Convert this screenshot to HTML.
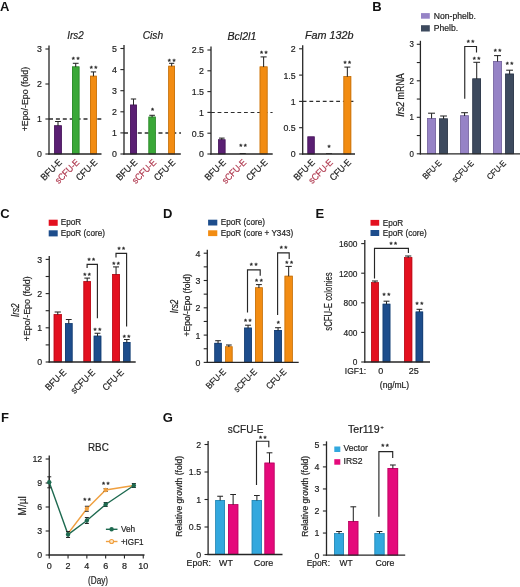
<!DOCTYPE html>
<html><head><meta charset="utf-8"><style>
html,body{margin:0;padding:0;background:#fff;width:520px;height:587px;overflow:hidden}
svg{display:block;will-change:transform}
text{font-family:"Liberation Sans", sans-serif}
</style></head><body>
<svg width="520" height="587" viewBox="0 0 520 587">
<rect width="520" height="587" fill="#fff"/>
<text x="0.10" y="10.90" font-size="13" text-anchor="start" fill="#111" font-weight="bold">A</text>
<text x="372.20" y="10.90" font-size="13" text-anchor="start" fill="#111" font-weight="bold">B</text>
<text x="0.30" y="217.50" font-size="13" text-anchor="start" fill="#111" font-weight="bold">C</text>
<text x="162.90" y="217.70" font-size="13" text-anchor="start" fill="#111" font-weight="bold">D</text>
<text x="315.60" y="217.80" font-size="13" text-anchor="start" fill="#111" font-weight="bold">E</text>
<text x="1.00" y="421.80" font-size="13" text-anchor="start" fill="#111" font-weight="bold">F</text>
<text x="162.80" y="421.50" font-size="13" text-anchor="start" fill="#111" font-weight="bold">G</text>
<text x="75.50" y="39.20" font-size="11" text-anchor="middle" fill="#222" stroke="#222" stroke-width="0.2" font-style="italic" textLength="16.5" lengthAdjust="spacingAndGlyphs">Irs2</text>
<line x1="49.00" y1="119.00" x2="101.50" y2="119.00" stroke="#2e2e2e" stroke-width="1.35" stroke-dasharray="4 2.9"/>
<rect x="54.20" y="125.40" width="7.60" height="28.60" fill="#5a1f73"/>
<rect x="54.55" y="125.75" width="6.90" height="28.25" fill="none" stroke="#461859" stroke-width="0.7"/>
<line x1="58.00" y1="125.90" x2="58.00" y2="121.50" stroke="#262626" stroke-width="1.05"/>
<line x1="55.04" y1="121.50" x2="60.96" y2="121.50" stroke="#262626" stroke-width="1.05"/>
<rect x="72.00" y="66.50" width="7.40" height="87.50" fill="#3aa838"/>
<rect x="72.35" y="66.85" width="6.70" height="87.15" fill="none" stroke="#2d832b" stroke-width="0.7"/>
<line x1="75.70" y1="67.00" x2="75.70" y2="63.30" stroke="#262626" stroke-width="1.05"/>
<line x1="72.81" y1="63.30" x2="78.59" y2="63.30" stroke="#262626" stroke-width="1.05"/>
<rect x="90.00" y="75.80" width="6.90" height="78.20" fill="#f28c12"/>
<rect x="90.35" y="76.15" width="6.20" height="77.85" fill="none" stroke="#bc6d0e" stroke-width="0.7"/>
<line x1="93.45" y1="76.30" x2="93.45" y2="71.90" stroke="#262626" stroke-width="1.05"/>
<line x1="90.76" y1="71.90" x2="96.14" y2="71.90" stroke="#262626" stroke-width="1.05"/>
<text x="76.45" y="61.60" font-size="8" text-anchor="middle" fill="#222" stroke="#222" stroke-width="0.3" letter-spacing="1.5">**</text>
<text x="94.25" y="70.80" font-size="8" text-anchor="middle" fill="#222" stroke="#222" stroke-width="0.3" letter-spacing="1.5">**</text>
<line x1="49.00" y1="45.50" x2="49.00" y2="154.60" stroke="#262626" stroke-width="1.3"/>
<line x1="45.40" y1="154.00" x2="49.00" y2="154.00" stroke="#262626" stroke-width="1.1"/>
<text x="42.00" y="157.40" font-size="9.5" text-anchor="end" fill="#222" stroke="#222" stroke-width="0.2" textLength="4.91" lengthAdjust="spacingAndGlyphs">0</text>
<line x1="45.40" y1="119.00" x2="49.00" y2="119.00" stroke="#262626" stroke-width="1.1"/>
<text x="42.00" y="122.40" font-size="9.5" text-anchor="end" fill="#222" stroke="#222" stroke-width="0.2" textLength="4.91" lengthAdjust="spacingAndGlyphs">1</text>
<line x1="45.40" y1="84.00" x2="49.00" y2="84.00" stroke="#262626" stroke-width="1.1"/>
<text x="42.00" y="87.40" font-size="9.5" text-anchor="end" fill="#222" stroke="#222" stroke-width="0.2" textLength="4.91" lengthAdjust="spacingAndGlyphs">2</text>
<line x1="45.40" y1="49.00" x2="49.00" y2="49.00" stroke="#262626" stroke-width="1.1"/>
<text x="42.00" y="52.40" font-size="9.5" text-anchor="end" fill="#222" stroke="#222" stroke-width="0.2" textLength="4.91" lengthAdjust="spacingAndGlyphs">3</text>
<line x1="48.35" y1="154.00" x2="101.50" y2="154.00" stroke="#262626" stroke-width="1.3"/>
<text x="62.50" y="163.00" font-size="9.5" text-anchor="end" fill="#222" stroke="#222" stroke-width="0.2" transform="rotate(-45 62.50 163.00)" textLength="25.37" lengthAdjust="spacingAndGlyphs">BFU-E</text>
<text x="80.00" y="163.00" font-size="9.5" text-anchor="end" fill="#b03a50" stroke="#b03a50" stroke-width="0.2" transform="rotate(-45 80.00 163.00)" textLength="30.06" lengthAdjust="spacingAndGlyphs">sCFU-E</text>
<text x="98.00" y="163.00" font-size="9.5" text-anchor="end" fill="#222" stroke="#222" stroke-width="0.2" transform="rotate(-45 98.00 163.00)" textLength="25.83" lengthAdjust="spacingAndGlyphs">CFU-E</text>
<text x="28.30" y="99.10" font-size="9" text-anchor="middle" fill="#222" stroke="#222" stroke-width="0.2" transform="rotate(-90 28.30 99.10)" textLength="64.5" lengthAdjust="spacingAndGlyphs">+Epo/-Epo (fold)</text>
<text x="152.90" y="39.20" font-size="11" text-anchor="middle" fill="#222" stroke="#222" stroke-width="0.2" font-style="italic" textLength="20.4" lengthAdjust="spacingAndGlyphs">Cish</text>
<line x1="124.00" y1="133.00" x2="181.00" y2="133.00" stroke="#2e2e2e" stroke-width="1.35" stroke-dasharray="4 2.9"/>
<rect x="130.10" y="104.70" width="6.80" height="49.30" fill="#5a1f73"/>
<rect x="130.45" y="105.05" width="6.10" height="48.95" fill="none" stroke="#461859" stroke-width="0.7"/>
<line x1="133.50" y1="105.20" x2="133.50" y2="99.00" stroke="#262626" stroke-width="1.05"/>
<line x1="130.85" y1="99.00" x2="136.15" y2="99.00" stroke="#262626" stroke-width="1.05"/>
<rect x="148.50" y="116.70" width="7.20" height="37.30" fill="#3aa838"/>
<rect x="148.85" y="117.05" width="6.50" height="36.95" fill="none" stroke="#2d832b" stroke-width="0.7"/>
<line x1="152.10" y1="117.20" x2="152.10" y2="115.30" stroke="#262626" stroke-width="1.05"/>
<line x1="149.29" y1="115.30" x2="154.91" y2="115.30" stroke="#262626" stroke-width="1.05"/>
<rect x="168.30" y="65.80" width="6.70" height="88.20" fill="#f28c12"/>
<rect x="168.65" y="66.15" width="6.00" height="87.85" fill="none" stroke="#bc6d0e" stroke-width="0.7"/>
<line x1="171.65" y1="66.30" x2="171.65" y2="63.30" stroke="#262626" stroke-width="1.05"/>
<line x1="169.04" y1="63.30" x2="174.26" y2="63.30" stroke="#262626" stroke-width="1.05"/>
<text x="152.60" y="113.30" font-size="8" text-anchor="middle" fill="#222" stroke="#222" stroke-width="0.3" letter-spacing="0">*</text>
<text x="172.45" y="63.50" font-size="8" text-anchor="middle" fill="#222" stroke="#222" stroke-width="0.3" letter-spacing="1.5">**</text>
<line x1="124.00" y1="45.00" x2="124.00" y2="154.60" stroke="#262626" stroke-width="1.3"/>
<line x1="120.40" y1="154.00" x2="124.00" y2="154.00" stroke="#262626" stroke-width="1.1"/>
<text x="117.00" y="157.40" font-size="9.5" text-anchor="end" fill="#222" stroke="#222" stroke-width="0.2" textLength="4.91" lengthAdjust="spacingAndGlyphs">0</text>
<line x1="120.40" y1="132.90" x2="124.00" y2="132.90" stroke="#262626" stroke-width="1.1"/>
<text x="117.00" y="136.30" font-size="9.5" text-anchor="end" fill="#222" stroke="#222" stroke-width="0.2" textLength="4.91" lengthAdjust="spacingAndGlyphs">1</text>
<line x1="120.40" y1="111.80" x2="124.00" y2="111.80" stroke="#262626" stroke-width="1.1"/>
<text x="117.00" y="115.20" font-size="9.5" text-anchor="end" fill="#222" stroke="#222" stroke-width="0.2" textLength="4.91" lengthAdjust="spacingAndGlyphs">2</text>
<line x1="120.40" y1="90.70" x2="124.00" y2="90.70" stroke="#262626" stroke-width="1.1"/>
<text x="117.00" y="94.10" font-size="9.5" text-anchor="end" fill="#222" stroke="#222" stroke-width="0.2" textLength="4.91" lengthAdjust="spacingAndGlyphs">3</text>
<line x1="120.40" y1="69.60" x2="124.00" y2="69.60" stroke="#262626" stroke-width="1.1"/>
<text x="117.00" y="73.00" font-size="9.5" text-anchor="end" fill="#222" stroke="#222" stroke-width="0.2" textLength="4.91" lengthAdjust="spacingAndGlyphs">4</text>
<line x1="120.40" y1="48.50" x2="124.00" y2="48.50" stroke="#262626" stroke-width="1.1"/>
<text x="117.00" y="51.90" font-size="9.5" text-anchor="end" fill="#222" stroke="#222" stroke-width="0.2" textLength="4.91" lengthAdjust="spacingAndGlyphs">5</text>
<line x1="123.35" y1="154.00" x2="180.80" y2="154.00" stroke="#262626" stroke-width="1.3"/>
<text x="138.00" y="163.00" font-size="9.5" text-anchor="end" fill="#222" stroke="#222" stroke-width="0.2" transform="rotate(-45 138.00 163.00)" textLength="25.37" lengthAdjust="spacingAndGlyphs">BFU-E</text>
<text x="157.00" y="163.00" font-size="9.5" text-anchor="end" fill="#b03a50" stroke="#b03a50" stroke-width="0.2" transform="rotate(-45 157.00 163.00)" textLength="30.06" lengthAdjust="spacingAndGlyphs">sCFU-E</text>
<text x="176.00" y="163.00" font-size="9.5" text-anchor="end" fill="#222" stroke="#222" stroke-width="0.2" transform="rotate(-45 176.00 163.00)" textLength="25.83" lengthAdjust="spacingAndGlyphs">CFU-E</text>
<text x="241.90" y="40.20" font-size="11" text-anchor="middle" fill="#222" stroke="#222" stroke-width="0.2" font-style="italic" textLength="28.8" lengthAdjust="spacingAndGlyphs">Bcl2l1</text>
<line x1="211.00" y1="112.50" x2="272.60" y2="112.50" stroke="#2e2e2e" stroke-width="1.0" stroke-dasharray="3.8 2.8"/>
<rect x="218.20" y="139.40" width="7.20" height="14.60" fill="#5a1f73"/>
<rect x="218.55" y="139.75" width="6.50" height="14.25" fill="none" stroke="#461859" stroke-width="0.7"/>
<line x1="221.80" y1="139.90" x2="221.80" y2="138.10" stroke="#262626" stroke-width="1.05"/>
<line x1="218.99" y1="138.10" x2="224.61" y2="138.10" stroke="#262626" stroke-width="1.05"/>
<rect x="239.70" y="153.00" width="6.10" height="1.00" fill="#333"/>
<rect x="259.70" y="66.50" width="7.80" height="87.50" fill="#f28c12"/>
<rect x="260.05" y="66.85" width="7.10" height="87.15" fill="none" stroke="#bc6d0e" stroke-width="0.7"/>
<line x1="263.60" y1="67.00" x2="263.60" y2="56.90" stroke="#262626" stroke-width="1.05"/>
<line x1="260.56" y1="56.90" x2="266.64" y2="56.90" stroke="#262626" stroke-width="1.05"/>
<text x="243.75" y="149.30" font-size="8" text-anchor="middle" fill="#222" stroke="#222" stroke-width="0.3" letter-spacing="1.5">**</text>
<text x="264.55" y="55.80" font-size="8" text-anchor="middle" fill="#222" stroke="#222" stroke-width="0.3" letter-spacing="1.5">**</text>
<line x1="211.00" y1="46.50" x2="211.00" y2="154.60" stroke="#262626" stroke-width="1.3"/>
<line x1="207.40" y1="154.00" x2="211.00" y2="154.00" stroke="#262626" stroke-width="1.1"/>
<text x="204.00" y="157.40" font-size="9.5" text-anchor="end" fill="#222" stroke="#222" stroke-width="0.2" textLength="4.91" lengthAdjust="spacingAndGlyphs">0</text>
<line x1="207.40" y1="133.20" x2="211.00" y2="133.20" stroke="#262626" stroke-width="1.1"/>
<text x="204.00" y="136.60" font-size="9.5" text-anchor="end" fill="#222" stroke="#222" stroke-width="0.2" textLength="12.28" lengthAdjust="spacingAndGlyphs">0.5</text>
<line x1="207.40" y1="112.40" x2="211.00" y2="112.40" stroke="#262626" stroke-width="1.1"/>
<text x="204.00" y="115.80" font-size="9.5" text-anchor="end" fill="#222" stroke="#222" stroke-width="0.2" textLength="4.91" lengthAdjust="spacingAndGlyphs">1</text>
<line x1="207.40" y1="91.60" x2="211.00" y2="91.60" stroke="#262626" stroke-width="1.1"/>
<text x="204.00" y="95.00" font-size="9.5" text-anchor="end" fill="#222" stroke="#222" stroke-width="0.2" textLength="12.28" lengthAdjust="spacingAndGlyphs">1.5</text>
<line x1="207.40" y1="70.80" x2="211.00" y2="70.80" stroke="#262626" stroke-width="1.1"/>
<text x="204.00" y="74.20" font-size="9.5" text-anchor="end" fill="#222" stroke="#222" stroke-width="0.2" textLength="4.91" lengthAdjust="spacingAndGlyphs">2</text>
<line x1="207.40" y1="50.00" x2="211.00" y2="50.00" stroke="#262626" stroke-width="1.1"/>
<text x="204.00" y="53.40" font-size="9.5" text-anchor="end" fill="#222" stroke="#222" stroke-width="0.2" textLength="12.28" lengthAdjust="spacingAndGlyphs">2.5</text>
<line x1="210.35" y1="154.00" x2="272.70" y2="154.00" stroke="#262626" stroke-width="1.3"/>
<text x="226.50" y="163.00" font-size="9.5" text-anchor="end" fill="#222" stroke="#222" stroke-width="0.2" transform="rotate(-45 226.50 163.00)" textLength="25.37" lengthAdjust="spacingAndGlyphs">BFU-E</text>
<text x="247.00" y="163.00" font-size="9.5" text-anchor="end" fill="#b03a50" stroke="#b03a50" stroke-width="0.2" transform="rotate(-45 247.00 163.00)" textLength="30.06" lengthAdjust="spacingAndGlyphs">sCFU-E</text>
<text x="268.30" y="163.00" font-size="9.5" text-anchor="end" fill="#222" stroke="#222" stroke-width="0.2" transform="rotate(-45 268.30 163.00)" textLength="25.83" lengthAdjust="spacingAndGlyphs">CFU-E</text>
<text x="329.20" y="38.70" font-size="11" text-anchor="middle" fill="#222" stroke="#222" stroke-width="0.2" font-style="italic" textLength="48.5" lengthAdjust="spacingAndGlyphs">Fam 132b</text>
<line x1="302.70" y1="101.40" x2="354.20" y2="101.40" stroke="#2e2e2e" stroke-width="1.2" stroke-dasharray="3.8 2.9"/>
<rect x="307.50" y="136.50" width="7.10" height="17.50" fill="#5a1f73"/>
<rect x="307.85" y="136.85" width="6.40" height="17.15" fill="none" stroke="#461859" stroke-width="0.7"/>
<rect x="326.00" y="153.20" width="6.00" height="0.80" fill="#333"/>
<rect x="343.50" y="76.20" width="7.70" height="77.80" fill="#f28c12"/>
<rect x="343.85" y="76.55" width="7.00" height="77.45" fill="none" stroke="#bc6d0e" stroke-width="0.7"/>
<line x1="347.35" y1="76.70" x2="347.35" y2="67.10" stroke="#262626" stroke-width="1.05"/>
<line x1="344.35" y1="67.10" x2="350.35" y2="67.10" stroke="#262626" stroke-width="1.05"/>
<text x="329.00" y="149.70" font-size="8" text-anchor="middle" fill="#222" stroke="#222" stroke-width="0.3" letter-spacing="0">*</text>
<text x="348.05" y="66.00" font-size="8" text-anchor="middle" fill="#222" stroke="#222" stroke-width="0.3" letter-spacing="1.5">**</text>
<line x1="302.70" y1="45.30" x2="302.70" y2="154.60" stroke="#262626" stroke-width="1.3"/>
<line x1="299.10" y1="154.00" x2="302.70" y2="154.00" stroke="#262626" stroke-width="1.1"/>
<text x="295.70" y="157.40" font-size="9.5" text-anchor="end" fill="#222" stroke="#222" stroke-width="0.2" textLength="4.91" lengthAdjust="spacingAndGlyphs">0</text>
<line x1="299.10" y1="127.70" x2="302.70" y2="127.70" stroke="#262626" stroke-width="1.1"/>
<text x="295.70" y="131.10" font-size="9.5" text-anchor="end" fill="#222" stroke="#222" stroke-width="0.2" textLength="12.28" lengthAdjust="spacingAndGlyphs">0.5</text>
<line x1="299.10" y1="101.40" x2="302.70" y2="101.40" stroke="#262626" stroke-width="1.1"/>
<text x="295.70" y="104.80" font-size="9.5" text-anchor="end" fill="#222" stroke="#222" stroke-width="0.2" textLength="4.91" lengthAdjust="spacingAndGlyphs">1</text>
<line x1="299.10" y1="75.10" x2="302.70" y2="75.10" stroke="#262626" stroke-width="1.1"/>
<text x="295.70" y="78.50" font-size="9.5" text-anchor="end" fill="#222" stroke="#222" stroke-width="0.2" textLength="12.28" lengthAdjust="spacingAndGlyphs">1.5</text>
<line x1="299.10" y1="48.80" x2="302.70" y2="48.80" stroke="#262626" stroke-width="1.1"/>
<text x="295.70" y="52.20" font-size="9.5" text-anchor="end" fill="#222" stroke="#222" stroke-width="0.2" textLength="4.91" lengthAdjust="spacingAndGlyphs">2</text>
<line x1="302.05" y1="154.00" x2="355.00" y2="154.00" stroke="#262626" stroke-width="1.3"/>
<text x="315.50" y="163.00" font-size="9.5" text-anchor="end" fill="#222" stroke="#222" stroke-width="0.2" transform="rotate(-45 315.50 163.00)" textLength="25.37" lengthAdjust="spacingAndGlyphs">BFU-E</text>
<text x="333.50" y="163.00" font-size="9.5" text-anchor="end" fill="#b03a50" stroke="#b03a50" stroke-width="0.2" transform="rotate(-45 333.50 163.00)" textLength="30.06" lengthAdjust="spacingAndGlyphs">sCFU-E</text>
<text x="351.80" y="163.00" font-size="9.5" text-anchor="end" fill="#222" stroke="#222" stroke-width="0.2" transform="rotate(-45 351.80 163.00)" textLength="25.83" lengthAdjust="spacingAndGlyphs">CFU-E</text>
<rect x="421.00" y="13.10" width="8.80" height="5.60" fill="#9683c6"/>
<text x="433.80" y="19.10" font-size="9" text-anchor="start" fill="#222" stroke="#222" stroke-width="0.2" textLength="42.05" lengthAdjust="spacingAndGlyphs">Non-phelb.</text>
<rect x="421.00" y="25.20" width="8.80" height="6.30" fill="#3d4a5e"/>
<text x="433.80" y="31.20" font-size="9" text-anchor="start" fill="#222" stroke="#222" stroke-width="0.2" textLength="24.37" lengthAdjust="spacingAndGlyphs">Phelb.</text>
<rect x="427.10" y="118.00" width="8.90" height="35.80" fill="#9683c6"/>
<rect x="427.45" y="118.35" width="8.20" height="35.45" fill="none" stroke="#75669a" stroke-width="0.7"/>
<line x1="431.55" y1="118.50" x2="431.55" y2="113.20" stroke="#262626" stroke-width="1.05"/>
<line x1="428.08" y1="113.20" x2="435.02" y2="113.20" stroke="#262626" stroke-width="1.05"/>
<rect x="439.20" y="118.50" width="8.70" height="35.30" fill="#3d4a5e"/>
<rect x="439.55" y="118.85" width="8.00" height="34.95" fill="none" stroke="#2f3949" stroke-width="0.7"/>
<line x1="443.55" y1="119.00" x2="443.55" y2="116.00" stroke="#262626" stroke-width="1.05"/>
<line x1="440.16" y1="116.00" x2="446.94" y2="116.00" stroke="#262626" stroke-width="1.05"/>
<rect x="460.20" y="115.40" width="8.70" height="38.40" fill="#9683c6"/>
<rect x="460.55" y="115.75" width="8.00" height="38.05" fill="none" stroke="#75669a" stroke-width="0.7"/>
<line x1="464.55" y1="115.90" x2="464.55" y2="112.70" stroke="#262626" stroke-width="1.05"/>
<line x1="461.16" y1="112.70" x2="467.94" y2="112.70" stroke="#262626" stroke-width="1.05"/>
<rect x="472.40" y="78.50" width="8.60" height="75.30" fill="#3d4a5e"/>
<rect x="472.75" y="78.85" width="7.90" height="74.95" fill="none" stroke="#2f3949" stroke-width="0.7"/>
<line x1="476.70" y1="79.00" x2="476.70" y2="62.30" stroke="#262626" stroke-width="1.05"/>
<line x1="473.35" y1="62.30" x2="480.05" y2="62.30" stroke="#262626" stroke-width="1.05"/>
<rect x="493.10" y="61.00" width="8.90" height="92.80" fill="#9683c6"/>
<rect x="493.45" y="61.35" width="8.20" height="92.45" fill="none" stroke="#75669a" stroke-width="0.7"/>
<line x1="497.55" y1="61.50" x2="497.55" y2="55.60" stroke="#262626" stroke-width="1.05"/>
<line x1="494.08" y1="55.60" x2="501.02" y2="55.60" stroke="#262626" stroke-width="1.05"/>
<rect x="505.20" y="73.70" width="8.80" height="80.10" fill="#3d4a5e"/>
<rect x="505.55" y="74.05" width="8.10" height="79.75" fill="none" stroke="#2f3949" stroke-width="0.7"/>
<line x1="509.60" y1="74.20" x2="509.60" y2="70.20" stroke="#262626" stroke-width="1.05"/>
<line x1="506.17" y1="70.20" x2="513.03" y2="70.20" stroke="#262626" stroke-width="1.05"/>
<polyline points="464.75,98.70 464.75,46.50 476.50,46.50 476.50,52.50" fill="none" stroke="#262626" stroke-width="1.15"/>
<text x="471.35" y="45.10" font-size="8" text-anchor="middle" fill="#222" stroke="#222" stroke-width="0.3" letter-spacing="1.5">**</text>
<text x="477.25" y="62.20" font-size="8" text-anchor="middle" fill="#222" stroke="#222" stroke-width="0.3" letter-spacing="1.5">**</text>
<text x="498.25" y="53.50" font-size="8" text-anchor="middle" fill="#222" stroke="#222" stroke-width="0.3" letter-spacing="1.5">**</text>
<text x="510.35" y="67.20" font-size="8" text-anchor="middle" fill="#222" stroke="#222" stroke-width="0.3" letter-spacing="1.5">**</text>
<line x1="420.40" y1="40.80" x2="420.40" y2="154.40" stroke="#262626" stroke-width="1.3"/>
<line x1="416.80" y1="153.80" x2="420.40" y2="153.80" stroke="#262626" stroke-width="1.1"/>
<text x="413.90" y="156.84" font-size="8.5" text-anchor="end" fill="#222" stroke="#222" stroke-width="0.2" textLength="4.4" lengthAdjust="spacingAndGlyphs">0</text>
<line x1="416.80" y1="117.30" x2="420.40" y2="117.30" stroke="#262626" stroke-width="1.1"/>
<text x="413.90" y="120.34" font-size="8.5" text-anchor="end" fill="#222" stroke="#222" stroke-width="0.2" textLength="4.4" lengthAdjust="spacingAndGlyphs">1</text>
<line x1="416.80" y1="80.80" x2="420.40" y2="80.80" stroke="#262626" stroke-width="1.1"/>
<text x="413.90" y="83.84" font-size="8.5" text-anchor="end" fill="#222" stroke="#222" stroke-width="0.2" textLength="4.4" lengthAdjust="spacingAndGlyphs">2</text>
<line x1="416.80" y1="44.30" x2="420.40" y2="44.30" stroke="#262626" stroke-width="1.1"/>
<text x="413.90" y="47.34" font-size="8.5" text-anchor="end" fill="#222" stroke="#222" stroke-width="0.2" textLength="4.4" lengthAdjust="spacingAndGlyphs">3</text>
<line x1="416.80" y1="135.55" x2="420.40" y2="135.55" stroke="#262626" stroke-width="1.1"/>
<line x1="416.80" y1="99.05" x2="420.40" y2="99.05" stroke="#262626" stroke-width="1.1"/>
<line x1="416.80" y1="62.55" x2="420.40" y2="62.55" stroke="#262626" stroke-width="1.1"/>
<line x1="419.75" y1="153.80" x2="520.00" y2="153.80" stroke="#262626" stroke-width="1.3"/>
<text x="442.00" y="163.80" font-size="8.5" text-anchor="end" fill="#222" stroke="#222" stroke-width="0.2" transform="rotate(-45 442.00 163.80)" textLength="22.7" lengthAdjust="spacingAndGlyphs">BFU-E</text>
<text x="474.30" y="163.80" font-size="8.5" text-anchor="end" fill="#222" stroke="#222" stroke-width="0.2" transform="rotate(-45 474.30 163.80)" textLength="26.9" lengthAdjust="spacingAndGlyphs">sCFU-E</text>
<text x="506.60" y="163.80" font-size="8.5" text-anchor="end" fill="#222" stroke="#222" stroke-width="0.2" transform="rotate(-45 506.60 163.80)" textLength="23.11" lengthAdjust="spacingAndGlyphs">CFU-E</text>
<text x="0" y="0" font-size="10" fill="#222" stroke="#222" stroke-width="0.2" text-anchor="middle" textLength="43.5" lengthAdjust="spacingAndGlyphs" transform="translate(404.2 95) rotate(-90)"><tspan font-style="italic">Irs2</tspan> mRNA</text>
<rect x="48.70" y="219.70" width="9.00" height="6.10" fill="#e3101f"/>
<text x="60.80" y="225.10" font-size="9" text-anchor="start" fill="#222" stroke="#222" stroke-width="0.2" textLength="20.49" lengthAdjust="spacingAndGlyphs">EpoR</text>
<rect x="48.70" y="230.30" width="9.00" height="6.10" fill="#1d4d8c"/>
<text x="60.80" y="236.00" font-size="9" text-anchor="start" fill="#222" stroke="#222" stroke-width="0.2" textLength="44.15" lengthAdjust="spacingAndGlyphs">EpoR (core)</text>
<rect x="53.75" y="314.25" width="8.00" height="47.75" fill="#e3101f"/>
<rect x="54.10" y="314.60" width="7.30" height="47.40" fill="none" stroke="#b10c18" stroke-width="0.7"/>
<line x1="57.75" y1="314.75" x2="57.75" y2="312.00" stroke="#262626" stroke-width="1.05"/>
<line x1="54.63" y1="312.00" x2="60.87" y2="312.00" stroke="#262626" stroke-width="1.05"/>
<rect x="65.00" y="323.25" width="7.50" height="38.75" fill="#1d4d8c"/>
<rect x="65.35" y="323.60" width="6.80" height="38.40" fill="none" stroke="#163c6d" stroke-width="0.7"/>
<line x1="68.75" y1="323.75" x2="68.75" y2="319.50" stroke="#262626" stroke-width="1.05"/>
<line x1="65.83" y1="319.50" x2="71.67" y2="319.50" stroke="#262626" stroke-width="1.05"/>
<rect x="83.50" y="281.25" width="7.40" height="80.75" fill="#e3101f"/>
<rect x="83.85" y="281.60" width="6.70" height="80.40" fill="none" stroke="#b10c18" stroke-width="0.7"/>
<line x1="87.20" y1="281.75" x2="87.20" y2="278.10" stroke="#262626" stroke-width="1.05"/>
<line x1="84.31" y1="278.10" x2="90.09" y2="278.10" stroke="#262626" stroke-width="1.05"/>
<rect x="93.75" y="335.75" width="7.50" height="26.25" fill="#1d4d8c"/>
<rect x="94.10" y="336.10" width="6.80" height="25.90" fill="none" stroke="#163c6d" stroke-width="0.7"/>
<line x1="97.50" y1="336.25" x2="97.50" y2="333.25" stroke="#262626" stroke-width="1.05"/>
<line x1="94.58" y1="333.25" x2="100.42" y2="333.25" stroke="#262626" stroke-width="1.05"/>
<rect x="112.20" y="274.10" width="7.70" height="87.90" fill="#e3101f"/>
<rect x="112.55" y="274.45" width="7.00" height="87.55" fill="none" stroke="#b10c18" stroke-width="0.7"/>
<line x1="116.05" y1="274.60" x2="116.05" y2="266.90" stroke="#262626" stroke-width="1.05"/>
<line x1="113.05" y1="266.90" x2="119.05" y2="266.90" stroke="#262626" stroke-width="1.05"/>
<rect x="123.20" y="342.00" width="7.20" height="20.00" fill="#1d4d8c"/>
<rect x="123.55" y="342.35" width="6.50" height="19.65" fill="none" stroke="#163c6d" stroke-width="0.7"/>
<line x1="126.80" y1="342.50" x2="126.80" y2="339.50" stroke="#262626" stroke-width="1.05"/>
<line x1="123.99" y1="339.50" x2="129.61" y2="339.50" stroke="#262626" stroke-width="1.05"/>
<polyline points="87.10,268.10 87.10,264.40 97.40,264.40 97.40,318.30" fill="none" stroke="#262626" stroke-width="1.15"/>
<polyline points="116.00,257.50 116.00,253.40 126.60,253.40 126.60,326.50" fill="none" stroke="#262626" stroke-width="1.15"/>
<text x="92.00" y="263.10" font-size="8" text-anchor="middle" fill="#222" stroke="#222" stroke-width="0.3" letter-spacing="1.5">**</text>
<text x="87.85" y="277.85" font-size="8" text-anchor="middle" fill="#222" stroke="#222" stroke-width="0.3" letter-spacing="1.5">**</text>
<text x="98.15" y="333.00" font-size="8" text-anchor="middle" fill="#222" stroke="#222" stroke-width="0.3" letter-spacing="1.5">**</text>
<text x="122.00" y="252.20" font-size="8" text-anchor="middle" fill="#222" stroke="#222" stroke-width="0.3" letter-spacing="1.5">**</text>
<text x="116.75" y="267.20" font-size="8" text-anchor="middle" fill="#222" stroke="#222" stroke-width="0.3" letter-spacing="1.5">**</text>
<text x="127.35" y="339.70" font-size="8" text-anchor="middle" fill="#222" stroke="#222" stroke-width="0.3" letter-spacing="1.5">**</text>
<line x1="49.25" y1="255.90" x2="49.25" y2="362.60" stroke="#262626" stroke-width="1.3"/>
<line x1="45.65" y1="362.00" x2="49.25" y2="362.00" stroke="#262626" stroke-width="1.1"/>
<text x="42.25" y="365.40" font-size="9.5" text-anchor="end" fill="#222" stroke="#222" stroke-width="0.2" textLength="4.91" lengthAdjust="spacingAndGlyphs">0</text>
<line x1="45.65" y1="327.80" x2="49.25" y2="327.80" stroke="#262626" stroke-width="1.1"/>
<text x="42.25" y="331.20" font-size="9.5" text-anchor="end" fill="#222" stroke="#222" stroke-width="0.2" textLength="4.91" lengthAdjust="spacingAndGlyphs">1</text>
<line x1="45.65" y1="293.60" x2="49.25" y2="293.60" stroke="#262626" stroke-width="1.1"/>
<text x="42.25" y="297.00" font-size="9.5" text-anchor="end" fill="#222" stroke="#222" stroke-width="0.2" textLength="4.91" lengthAdjust="spacingAndGlyphs">2</text>
<line x1="45.65" y1="259.40" x2="49.25" y2="259.40" stroke="#262626" stroke-width="1.1"/>
<text x="42.25" y="262.80" font-size="9.5" text-anchor="end" fill="#222" stroke="#222" stroke-width="0.2" textLength="4.91" lengthAdjust="spacingAndGlyphs">3</text>
<line x1="45.65" y1="344.90" x2="49.25" y2="344.90" stroke="#262626" stroke-width="1.1"/>
<line x1="45.65" y1="310.70" x2="49.25" y2="310.70" stroke="#262626" stroke-width="1.1"/>
<line x1="45.65" y1="276.50" x2="49.25" y2="276.50" stroke="#262626" stroke-width="1.1"/>
<line x1="48.60" y1="362.00" x2="135.70" y2="362.00" stroke="#262626" stroke-width="1.3"/>
<text x="66.90" y="373.00" font-size="9.5" text-anchor="end" fill="#222" stroke="#222" stroke-width="0.2" transform="rotate(-45 66.90 373.00)" textLength="25.37" lengthAdjust="spacingAndGlyphs">BFU-E</text>
<text x="95.80" y="373.00" font-size="9.5" text-anchor="end" fill="#222" stroke="#222" stroke-width="0.2" transform="rotate(-45 95.80 373.00)" textLength="30.06" lengthAdjust="spacingAndGlyphs">sCFU-E</text>
<text x="124.60" y="373.00" font-size="9.5" text-anchor="end" fill="#222" stroke="#222" stroke-width="0.2" transform="rotate(-45 124.60 373.00)" textLength="25.83" lengthAdjust="spacingAndGlyphs">CFU-E</text>
<text x="19.00" y="310.20" font-size="10" text-anchor="middle" fill="#222" stroke="#222" stroke-width="0.2" font-style="italic" transform="rotate(-90 19.00 310.20)" textLength="13.6" lengthAdjust="spacingAndGlyphs">Irs2</text>
<text x="30.30" y="308.80" font-size="9" text-anchor="middle" fill="#222" stroke="#222" stroke-width="0.2" transform="rotate(-90 30.30 308.80)" textLength="65" lengthAdjust="spacingAndGlyphs">+Epo/-Epo (fold)</text>
<rect x="208.10" y="219.70" width="9.20" height="5.80" fill="#1d4d8c"/>
<text x="220.80" y="225.10" font-size="9" text-anchor="start" fill="#222" stroke="#222" stroke-width="0.2" textLength="44.15" lengthAdjust="spacingAndGlyphs">EpoR (core)</text>
<rect x="208.10" y="230.30" width="9.20" height="5.80" fill="#f28c12"/>
<text x="220.80" y="236.00" font-size="9" text-anchor="start" fill="#222" stroke="#222" stroke-width="0.2" textLength="72.46" lengthAdjust="spacingAndGlyphs">EpoR (core + Y343)</text>
<rect x="214.40" y="342.90" width="7.30" height="19.50" fill="#1d4d8c"/>
<rect x="214.75" y="343.25" width="6.60" height="19.15" fill="none" stroke="#163c6d" stroke-width="0.7"/>
<line x1="218.05" y1="343.40" x2="218.05" y2="340.70" stroke="#262626" stroke-width="1.05"/>
<line x1="215.20" y1="340.70" x2="220.90" y2="340.70" stroke="#262626" stroke-width="1.05"/>
<rect x="225.20" y="346.40" width="7.30" height="16.00" fill="#f28c12"/>
<rect x="225.55" y="346.75" width="6.60" height="15.65" fill="none" stroke="#bc6d0e" stroke-width="0.7"/>
<line x1="228.85" y1="346.90" x2="228.85" y2="345.00" stroke="#262626" stroke-width="1.05"/>
<line x1="226.00" y1="345.00" x2="231.70" y2="345.00" stroke="#262626" stroke-width="1.05"/>
<rect x="244.20" y="327.70" width="7.70" height="34.70" fill="#1d4d8c"/>
<rect x="244.55" y="328.05" width="7.00" height="34.35" fill="none" stroke="#163c6d" stroke-width="0.7"/>
<line x1="248.05" y1="328.20" x2="248.05" y2="325.20" stroke="#262626" stroke-width="1.05"/>
<line x1="245.05" y1="325.20" x2="251.05" y2="325.20" stroke="#262626" stroke-width="1.05"/>
<rect x="255.10" y="287.40" width="7.60" height="75.00" fill="#f28c12"/>
<rect x="255.45" y="287.75" width="6.90" height="74.65" fill="none" stroke="#bc6d0e" stroke-width="0.7"/>
<line x1="258.90" y1="287.90" x2="258.90" y2="284.60" stroke="#262626" stroke-width="1.05"/>
<line x1="255.94" y1="284.60" x2="261.86" y2="284.60" stroke="#262626" stroke-width="1.05"/>
<rect x="274.20" y="330.00" width="7.70" height="32.40" fill="#1d4d8c"/>
<rect x="274.55" y="330.35" width="7.00" height="32.05" fill="none" stroke="#163c6d" stroke-width="0.7"/>
<line x1="278.05" y1="330.50" x2="278.05" y2="327.70" stroke="#262626" stroke-width="1.05"/>
<line x1="275.05" y1="327.70" x2="281.05" y2="327.70" stroke="#262626" stroke-width="1.05"/>
<rect x="284.60" y="275.80" width="8.10" height="86.60" fill="#f28c12"/>
<rect x="284.95" y="276.15" width="7.40" height="86.25" fill="none" stroke="#bc6d0e" stroke-width="0.7"/>
<line x1="288.65" y1="276.30" x2="288.65" y2="266.40" stroke="#262626" stroke-width="1.05"/>
<line x1="285.49" y1="266.40" x2="291.81" y2="266.40" stroke="#262626" stroke-width="1.05"/>
<polyline points="247.50,312.40 247.50,269.80 260.20,269.80 260.20,275.80" fill="none" stroke="#262626" stroke-width="1.15"/>
<polyline points="277.60,315.00 277.60,252.80 289.20,252.80 289.20,259.10" fill="none" stroke="#262626" stroke-width="1.15"/>
<text x="254.45" y="268.00" font-size="8" text-anchor="middle" fill="#222" stroke="#222" stroke-width="0.3" letter-spacing="1.5">**</text>
<text x="259.65" y="284.10" font-size="8" text-anchor="middle" fill="#222" stroke="#222" stroke-width="0.3" letter-spacing="1.5">**</text>
<text x="248.55" y="323.70" font-size="8" text-anchor="middle" fill="#222" stroke="#222" stroke-width="0.3" letter-spacing="1.5">**</text>
<text x="284.35" y="251.30" font-size="8" text-anchor="middle" fill="#222" stroke="#222" stroke-width="0.3" letter-spacing="1.5">**</text>
<text x="289.95" y="266.20" font-size="8" text-anchor="middle" fill="#222" stroke="#222" stroke-width="0.3" letter-spacing="1.5">**</text>
<text x="278.40" y="325.90" font-size="8" text-anchor="middle" fill="#222" stroke="#222" stroke-width="0.3" letter-spacing="0">*</text>
<line x1="207.30" y1="249.70" x2="207.30" y2="363.00" stroke="#262626" stroke-width="1.3"/>
<line x1="203.70" y1="362.40" x2="207.30" y2="362.40" stroke="#262626" stroke-width="1.1"/>
<text x="200.30" y="365.80" font-size="9.5" text-anchor="end" fill="#222" stroke="#222" stroke-width="0.2" textLength="4.91" lengthAdjust="spacingAndGlyphs">0</text>
<line x1="203.70" y1="335.10" x2="207.30" y2="335.10" stroke="#262626" stroke-width="1.1"/>
<text x="200.30" y="338.50" font-size="9.5" text-anchor="end" fill="#222" stroke="#222" stroke-width="0.2" textLength="4.91" lengthAdjust="spacingAndGlyphs">1</text>
<line x1="203.70" y1="307.80" x2="207.30" y2="307.80" stroke="#262626" stroke-width="1.1"/>
<text x="200.30" y="311.20" font-size="9.5" text-anchor="end" fill="#222" stroke="#222" stroke-width="0.2" textLength="4.91" lengthAdjust="spacingAndGlyphs">2</text>
<line x1="203.70" y1="280.50" x2="207.30" y2="280.50" stroke="#262626" stroke-width="1.1"/>
<text x="200.30" y="283.90" font-size="9.5" text-anchor="end" fill="#222" stroke="#222" stroke-width="0.2" textLength="4.91" lengthAdjust="spacingAndGlyphs">3</text>
<line x1="203.70" y1="253.20" x2="207.30" y2="253.20" stroke="#262626" stroke-width="1.1"/>
<text x="200.30" y="256.60" font-size="9.5" text-anchor="end" fill="#222" stroke="#222" stroke-width="0.2" textLength="4.91" lengthAdjust="spacingAndGlyphs">4</text>
<line x1="203.70" y1="348.75" x2="207.30" y2="348.75" stroke="#262626" stroke-width="1.1"/>
<line x1="203.70" y1="321.45" x2="207.30" y2="321.45" stroke="#262626" stroke-width="1.1"/>
<line x1="203.70" y1="294.15" x2="207.30" y2="294.15" stroke="#262626" stroke-width="1.1"/>
<line x1="203.70" y1="266.85" x2="207.30" y2="266.85" stroke="#262626" stroke-width="1.1"/>
<line x1="206.65" y1="362.40" x2="298.70" y2="362.40" stroke="#262626" stroke-width="1.3"/>
<text x="226.50" y="372.50" font-size="9" text-anchor="end" fill="#222" stroke="#222" stroke-width="0.2" transform="rotate(-45 226.50 372.50)" textLength="24.03" lengthAdjust="spacingAndGlyphs">BFU-E</text>
<text x="257.50" y="372.50" font-size="9" text-anchor="end" fill="#222" stroke="#222" stroke-width="0.2" transform="rotate(-45 257.50 372.50)" textLength="28.48" lengthAdjust="spacingAndGlyphs">sCFU-E</text>
<text x="287.10" y="372.50" font-size="9" text-anchor="end" fill="#222" stroke="#222" stroke-width="0.2" transform="rotate(-45 287.10 372.50)" textLength="24.47" lengthAdjust="spacingAndGlyphs">CFU-E</text>
<text x="178.30" y="306.50" font-size="10" text-anchor="middle" fill="#222" stroke="#222" stroke-width="0.2" font-style="italic" transform="rotate(-90 178.30 306.50)" textLength="13.7" lengthAdjust="spacingAndGlyphs">Irs2</text>
<text x="189.80" y="305.20" font-size="9" text-anchor="middle" fill="#222" stroke="#222" stroke-width="0.2" transform="rotate(-90 189.80 305.20)" textLength="62.6" lengthAdjust="spacingAndGlyphs">+Epo/-Epo (fold)</text>
<rect x="370.50" y="219.90" width="8.70" height="5.80" fill="#e3101f"/>
<text x="382.70" y="225.70" font-size="9" text-anchor="start" fill="#222" stroke="#222" stroke-width="0.2" textLength="20.49" lengthAdjust="spacingAndGlyphs">EpoR</text>
<rect x="370.50" y="230.00" width="8.70" height="6.00" fill="#1d4d8c"/>
<text x="382.70" y="236.00" font-size="9" text-anchor="start" fill="#222" stroke="#222" stroke-width="0.2" textLength="44.15" lengthAdjust="spacingAndGlyphs">EpoR (core)</text>
<rect x="371.20" y="282.30" width="7.60" height="79.70" fill="#e3101f"/>
<rect x="371.55" y="282.65" width="6.90" height="79.35" fill="none" stroke="#b10c18" stroke-width="0.7"/>
<line x1="375.00" y1="282.80" x2="375.00" y2="281.00" stroke="#262626" stroke-width="1.05"/>
<line x1="372.04" y1="281.00" x2="377.96" y2="281.00" stroke="#262626" stroke-width="1.05"/>
<rect x="382.70" y="303.80" width="7.60" height="58.20" fill="#1d4d8c"/>
<rect x="383.05" y="304.15" width="6.90" height="57.85" fill="none" stroke="#163c6d" stroke-width="0.7"/>
<line x1="386.50" y1="304.30" x2="386.50" y2="301.20" stroke="#262626" stroke-width="1.05"/>
<line x1="383.54" y1="301.20" x2="389.46" y2="301.20" stroke="#262626" stroke-width="1.05"/>
<rect x="404.20" y="257.30" width="8.00" height="104.70" fill="#e3101f"/>
<rect x="404.55" y="257.65" width="7.30" height="104.35" fill="none" stroke="#b10c18" stroke-width="0.7"/>
<line x1="408.20" y1="257.80" x2="408.20" y2="256.00" stroke="#262626" stroke-width="1.05"/>
<line x1="405.08" y1="256.00" x2="411.32" y2="256.00" stroke="#262626" stroke-width="1.05"/>
<rect x="415.70" y="311.60" width="7.40" height="50.40" fill="#1d4d8c"/>
<rect x="416.05" y="311.95" width="6.70" height="50.05" fill="none" stroke="#163c6d" stroke-width="0.7"/>
<line x1="419.40" y1="312.10" x2="419.40" y2="309.30" stroke="#262626" stroke-width="1.05"/>
<line x1="416.51" y1="309.30" x2="422.29" y2="309.30" stroke="#262626" stroke-width="1.05"/>
<polyline points="374.50,278.50 374.50,248.30 408.40,248.30 408.40,253.10" fill="none" stroke="#262626" stroke-width="1.15"/>
<text x="394.05" y="247.10" font-size="8" text-anchor="middle" fill="#222" stroke="#222" stroke-width="0.3" letter-spacing="1.5">**</text>
<text x="387.15" y="297.80" font-size="8" text-anchor="middle" fill="#222" stroke="#222" stroke-width="0.3" letter-spacing="1.5">**</text>
<text x="420.15" y="306.50" font-size="8" text-anchor="middle" fill="#222" stroke="#222" stroke-width="0.3" letter-spacing="1.5">**</text>
<line x1="364.80" y1="240.10" x2="364.80" y2="362.60" stroke="#262626" stroke-width="1.3"/>
<line x1="361.20" y1="362.00" x2="364.80" y2="362.00" stroke="#262626" stroke-width="1.1"/>
<text x="357.50" y="365.40" font-size="9.5" text-anchor="end" fill="#222" stroke="#222" stroke-width="0.2" textLength="4.65" lengthAdjust="spacingAndGlyphs">0</text>
<line x1="361.20" y1="332.40" x2="364.80" y2="332.40" stroke="#262626" stroke-width="1.1"/>
<text x="357.50" y="335.80" font-size="9.5" text-anchor="end" fill="#222" stroke="#222" stroke-width="0.2" textLength="13.95" lengthAdjust="spacingAndGlyphs">400</text>
<line x1="361.20" y1="302.80" x2="364.80" y2="302.80" stroke="#262626" stroke-width="1.1"/>
<text x="357.50" y="306.20" font-size="9.5" text-anchor="end" fill="#222" stroke="#222" stroke-width="0.2" textLength="13.95" lengthAdjust="spacingAndGlyphs">800</text>
<line x1="361.20" y1="273.20" x2="364.80" y2="273.20" stroke="#262626" stroke-width="1.1"/>
<text x="357.50" y="276.60" font-size="9.5" text-anchor="end" fill="#222" stroke="#222" stroke-width="0.2" textLength="18.6" lengthAdjust="spacingAndGlyphs">1200</text>
<line x1="361.20" y1="243.60" x2="364.80" y2="243.60" stroke="#262626" stroke-width="1.1"/>
<text x="357.50" y="247.00" font-size="9.5" text-anchor="end" fill="#222" stroke="#222" stroke-width="0.2" textLength="18.6" lengthAdjust="spacingAndGlyphs">1600</text>
<line x1="364.15" y1="362.00" x2="430.00" y2="362.00" stroke="#262626" stroke-width="1.3"/>
<text x="366.00" y="373.50" font-size="9" text-anchor="end" fill="#222" stroke="#222" stroke-width="0.2" textLength="21.2" lengthAdjust="spacingAndGlyphs">IGF1:</text>
<text x="380.70" y="373.50" font-size="9" text-anchor="middle" fill="#222" stroke="#222" stroke-width="0.2">0</text>
<text x="413.80" y="373.50" font-size="9" text-anchor="middle" fill="#222" stroke="#222" stroke-width="0.2">25</text>
<text x="394.50" y="387.70" font-size="9" text-anchor="middle" fill="#222" stroke="#222" stroke-width="0.2" textLength="29.4" lengthAdjust="spacingAndGlyphs">(ng/mL)</text>
<text x="332.20" y="301.50" font-size="10" text-anchor="middle" fill="#222" stroke="#222" stroke-width="0.2" transform="rotate(-90 332.20 301.50)" textLength="58.5" lengthAdjust="spacingAndGlyphs">sCFU-E colonies</text>
<text x="98.40" y="451.25" font-size="11" text-anchor="middle" fill="#222" stroke="#222" stroke-width="0.2" textLength="20.75" lengthAdjust="spacingAndGlyphs">RBC</text>
<line x1="49.25" y1="455.50" x2="49.25" y2="555.60" stroke="#262626" stroke-width="1.3"/>
<line x1="45.65" y1="555.00" x2="49.25" y2="555.00" stroke="#262626" stroke-width="1.1"/>
<text x="42.25" y="558.40" font-size="9.5" text-anchor="end" fill="#222" stroke="#222" stroke-width="0.2" textLength="4.91" lengthAdjust="spacingAndGlyphs">0</text>
<line x1="45.65" y1="531.00" x2="49.25" y2="531.00" stroke="#262626" stroke-width="1.1"/>
<text x="42.25" y="534.40" font-size="9.5" text-anchor="end" fill="#222" stroke="#222" stroke-width="0.2" textLength="4.91" lengthAdjust="spacingAndGlyphs">3</text>
<line x1="45.65" y1="507.00" x2="49.25" y2="507.00" stroke="#262626" stroke-width="1.1"/>
<text x="42.25" y="510.40" font-size="9.5" text-anchor="end" fill="#222" stroke="#222" stroke-width="0.2" textLength="4.91" lengthAdjust="spacingAndGlyphs">6</text>
<line x1="45.65" y1="483.00" x2="49.25" y2="483.00" stroke="#262626" stroke-width="1.1"/>
<text x="42.25" y="486.40" font-size="9.5" text-anchor="end" fill="#222" stroke="#222" stroke-width="0.2" textLength="4.91" lengthAdjust="spacingAndGlyphs">9</text>
<line x1="45.65" y1="459.00" x2="49.25" y2="459.00" stroke="#262626" stroke-width="1.1"/>
<text x="42.25" y="462.40" font-size="9.5" text-anchor="end" fill="#222" stroke="#222" stroke-width="0.2" textLength="9.83" lengthAdjust="spacingAndGlyphs">12</text>
<line x1="48.60" y1="555.00" x2="144.50" y2="555.00" stroke="#262626" stroke-width="1.3"/>
<line x1="49.25" y1="555.00" x2="49.25" y2="558.50" stroke="#262626" stroke-width="1.1"/>
<text x="49.25" y="569.30" font-size="9" text-anchor="middle" fill="#222" stroke="#222" stroke-width="0.2">0</text>
<line x1="68.05" y1="555.00" x2="68.05" y2="558.50" stroke="#262626" stroke-width="1.1"/>
<text x="68.05" y="569.30" font-size="9" text-anchor="middle" fill="#222" stroke="#222" stroke-width="0.2">2</text>
<line x1="86.85" y1="555.00" x2="86.85" y2="558.50" stroke="#262626" stroke-width="1.1"/>
<text x="86.85" y="569.30" font-size="9" text-anchor="middle" fill="#222" stroke="#222" stroke-width="0.2">4</text>
<line x1="105.65" y1="555.00" x2="105.65" y2="558.50" stroke="#262626" stroke-width="1.1"/>
<text x="105.65" y="569.30" font-size="9" text-anchor="middle" fill="#222" stroke="#222" stroke-width="0.2">6</text>
<line x1="124.45" y1="555.00" x2="124.45" y2="558.50" stroke="#262626" stroke-width="1.1"/>
<text x="124.45" y="569.30" font-size="9" text-anchor="middle" fill="#222" stroke="#222" stroke-width="0.2">8</text>
<line x1="143.25" y1="555.00" x2="143.25" y2="558.50" stroke="#262626" stroke-width="1.1"/>
<text x="143.25" y="569.30" font-size="9" text-anchor="middle" fill="#222" stroke="#222" stroke-width="0.2">10</text>
<text x="98.10" y="584.00" font-size="10" text-anchor="middle" fill="#222" stroke="#222" stroke-width="0.2" textLength="20" lengthAdjust="spacingAndGlyphs">(Day)</text>
<text x="26.00" y="505.90" font-size="10" text-anchor="middle" fill="#222" stroke="#222" stroke-width="0.2" transform="rotate(-90 26.00 505.90)" textLength="19" lengthAdjust="spacingAndGlyphs">M/µl</text>
<polyline points="68.05,533.50 86.85,508.75 105.65,490.00 133.85,485.50" fill="none" stroke="#f0a040" stroke-width="1.4"/>
<polyline points="49.25,482.30 68.05,534.50 86.85,520.50 105.65,504.50 133.85,485.50" fill="none" stroke="#1e6a50" stroke-width="1.4"/>
<line x1="49.25" y1="476.80" x2="49.25" y2="487.80" stroke="#262626" stroke-width="1"/>
<line x1="47.25" y1="476.80" x2="51.25" y2="476.80" stroke="#262626" stroke-width="1"/>
<line x1="47.25" y1="487.80" x2="51.25" y2="487.80" stroke="#262626" stroke-width="1"/>
<line x1="68.05" y1="531.50" x2="68.05" y2="537.50" stroke="#262626" stroke-width="1"/>
<line x1="66.05" y1="531.50" x2="70.05" y2="531.50" stroke="#262626" stroke-width="1"/>
<line x1="66.05" y1="537.50" x2="70.05" y2="537.50" stroke="#262626" stroke-width="1"/>
<line x1="86.85" y1="517.50" x2="86.85" y2="523.50" stroke="#262626" stroke-width="1"/>
<line x1="84.85" y1="517.50" x2="88.85" y2="517.50" stroke="#262626" stroke-width="1"/>
<line x1="84.85" y1="523.50" x2="88.85" y2="523.50" stroke="#262626" stroke-width="1"/>
<line x1="105.65" y1="502.50" x2="105.65" y2="506.50" stroke="#262626" stroke-width="1"/>
<line x1="103.65" y1="502.50" x2="107.65" y2="502.50" stroke="#262626" stroke-width="1"/>
<line x1="103.65" y1="506.50" x2="107.65" y2="506.50" stroke="#262626" stroke-width="1"/>
<line x1="133.85" y1="483.50" x2="133.85" y2="487.50" stroke="#262626" stroke-width="1"/>
<line x1="131.85" y1="483.50" x2="135.85" y2="483.50" stroke="#262626" stroke-width="1"/>
<line x1="131.85" y1="487.50" x2="135.85" y2="487.50" stroke="#262626" stroke-width="1"/>
<line x1="86.85" y1="506.25" x2="86.85" y2="511.25" stroke="#262626" stroke-width="1"/>
<line x1="84.85" y1="506.25" x2="88.85" y2="506.25" stroke="#262626" stroke-width="1"/>
<line x1="84.85" y1="511.25" x2="88.85" y2="511.25" stroke="#262626" stroke-width="1"/>
<line x1="105.65" y1="488.50" x2="105.65" y2="491.50" stroke="#262626" stroke-width="1"/>
<line x1="103.65" y1="488.50" x2="107.65" y2="488.50" stroke="#262626" stroke-width="1"/>
<line x1="103.65" y1="491.50" x2="107.65" y2="491.50" stroke="#262626" stroke-width="1"/>
<circle cx="86.85" cy="508.75" r="2.2" fill="#f0a040"/>
<circle cx="105.65" cy="490.00" r="2.2" fill="#f0a040"/>
<circle cx="49.25" cy="482.30" r="2.2" fill="#1e6a50"/>
<circle cx="68.05" cy="534.50" r="2.2" fill="#1e6a50"/>
<circle cx="86.85" cy="520.50" r="2.2" fill="#1e6a50"/>
<circle cx="105.65" cy="504.50" r="2.2" fill="#1e6a50"/>
<circle cx="133.85" cy="485.50" r="2.2" fill="#1e6a50"/>
<text x="87.75" y="503.35" font-size="8" text-anchor="middle" fill="#222" stroke="#222" stroke-width="0.3" letter-spacing="1.5">**</text>
<text x="106.50" y="486.60" font-size="8" text-anchor="middle" fill="#222" stroke="#222" stroke-width="0.3" letter-spacing="1.5">**</text>
<line x1="105.90" y1="529.30" x2="117.50" y2="529.30" stroke="#1e6a50" stroke-width="1.4"/>
<circle cx="111.6" cy="529.3" r="2.2" fill="#1e6a50"/>
<text x="120.90" y="532.30" font-size="9" text-anchor="start" fill="#222" stroke="#222" stroke-width="0.2" textLength="14.28" lengthAdjust="spacingAndGlyphs">Veh</text>
<line x1="105.90" y1="541.50" x2="117.50" y2="541.50" stroke="#f0a040" stroke-width="1.4"/>
<circle cx="111.6" cy="541.5" r="2" fill="#fde8c8" stroke="#f0a040" stroke-width="1.1"/>
<text x="120.90" y="544.60" font-size="9" text-anchor="start" fill="#222" stroke="#222" stroke-width="0.2" textLength="22.73" lengthAdjust="spacingAndGlyphs">+IGF1</text>
<text x="245.60" y="432.50" font-size="11" text-anchor="middle" fill="#222" stroke="#222" stroke-width="0.2" textLength="35.5" lengthAdjust="spacingAndGlyphs">sCFU-E</text>
<rect x="215.30" y="500.00" width="9.70" height="54.50" fill="#33a8de"/>
<rect x="215.65" y="500.35" width="9.00" height="54.15" fill="none" stroke="#2783ad" stroke-width="0.7"/>
<line x1="220.15" y1="500.50" x2="220.15" y2="496.25" stroke="#262626" stroke-width="1.05"/>
<line x1="217.25" y1="496.25" x2="223.05" y2="496.25" stroke="#262626" stroke-width="1.05"/>
<rect x="228.00" y="504.25" width="10.25" height="50.25" fill="#e5097b"/>
<rect x="228.35" y="504.60" width="9.55" height="49.90" fill="none" stroke="#b2075f" stroke-width="0.7"/>
<line x1="233.12" y1="504.75" x2="233.12" y2="494.50" stroke="#262626" stroke-width="1.05"/>
<line x1="230.22" y1="494.50" x2="236.03" y2="494.50" stroke="#262626" stroke-width="1.05"/>
<rect x="251.75" y="500.00" width="10.25" height="54.50" fill="#33a8de"/>
<rect x="252.10" y="500.35" width="9.55" height="54.15" fill="none" stroke="#2783ad" stroke-width="0.7"/>
<line x1="256.88" y1="500.50" x2="256.88" y2="495.50" stroke="#262626" stroke-width="1.05"/>
<line x1="253.97" y1="495.50" x2="259.77" y2="495.50" stroke="#262626" stroke-width="1.05"/>
<rect x="264.50" y="462.70" width="10.00" height="91.80" fill="#e5097b"/>
<rect x="264.85" y="463.05" width="9.30" height="91.45" fill="none" stroke="#b2075f" stroke-width="0.7"/>
<line x1="269.50" y1="463.20" x2="269.50" y2="452.80" stroke="#262626" stroke-width="1.05"/>
<line x1="266.60" y1="452.80" x2="272.40" y2="452.80" stroke="#262626" stroke-width="1.05"/>
<polyline points="256.50,485.00 256.50,441.20 268.80,441.20 268.80,447.20" fill="none" stroke="#262626" stroke-width="1.15"/>
<text x="263.55" y="440.70" font-size="8" text-anchor="middle" fill="#222" stroke="#222" stroke-width="0.3" letter-spacing="1.5">**</text>
<line x1="208.10" y1="441.00" x2="208.10" y2="555.10" stroke="#262626" stroke-width="1.3"/>
<line x1="204.50" y1="554.50" x2="208.10" y2="554.50" stroke="#262626" stroke-width="1.1"/>
<text x="201.10" y="557.90" font-size="9.5" text-anchor="end" fill="#222" stroke="#222" stroke-width="0.2" textLength="4.91" lengthAdjust="spacingAndGlyphs">0</text>
<line x1="204.50" y1="527.00" x2="208.10" y2="527.00" stroke="#262626" stroke-width="1.1"/>
<text x="201.10" y="530.40" font-size="9.5" text-anchor="end" fill="#222" stroke="#222" stroke-width="0.2" textLength="12.28" lengthAdjust="spacingAndGlyphs">0.5</text>
<line x1="204.50" y1="499.50" x2="208.10" y2="499.50" stroke="#262626" stroke-width="1.1"/>
<text x="201.10" y="502.90" font-size="9.5" text-anchor="end" fill="#222" stroke="#222" stroke-width="0.2" textLength="4.91" lengthAdjust="spacingAndGlyphs">1</text>
<line x1="204.50" y1="472.00" x2="208.10" y2="472.00" stroke="#262626" stroke-width="1.1"/>
<text x="201.10" y="475.40" font-size="9.5" text-anchor="end" fill="#222" stroke="#222" stroke-width="0.2" textLength="12.28" lengthAdjust="spacingAndGlyphs">1.5</text>
<line x1="204.50" y1="444.50" x2="208.10" y2="444.50" stroke="#262626" stroke-width="1.1"/>
<text x="201.10" y="447.90" font-size="9.5" text-anchor="end" fill="#222" stroke="#222" stroke-width="0.2" textLength="4.91" lengthAdjust="spacingAndGlyphs">2</text>
<line x1="207.45" y1="554.50" x2="282.50" y2="554.50" stroke="#262626" stroke-width="1.3"/>
<text x="211.00" y="566.00" font-size="9" text-anchor="end" fill="#222" stroke="#222" stroke-width="0.2" textLength="24.4" lengthAdjust="spacingAndGlyphs">EpoR:</text>
<text x="226.00" y="566.00" font-size="9" text-anchor="middle" fill="#222" stroke="#222" stroke-width="0.2" textLength="13.8" lengthAdjust="spacingAndGlyphs">WT</text>
<text x="263.40" y="566.00" font-size="9" text-anchor="middle" fill="#222" stroke="#222" stroke-width="0.2" textLength="19.5" lengthAdjust="spacingAndGlyphs">Core</text>
<text x="182.30" y="496.30" font-size="9.5" text-anchor="middle" fill="#222" stroke="#222" stroke-width="0.2" transform="rotate(-90 182.30 496.30)" textLength="81" lengthAdjust="spacingAndGlyphs">Relative growth (fold)</text>
<text x="348.00" y="432.60" font-size="10.5" text-anchor="start" fill="#222" stroke="#222" stroke-width="0.2" textLength="31.6" lengthAdjust="spacingAndGlyphs">Ter119</text>
<text x="380.60" y="429.30" font-size="5.5" text-anchor="start" fill="#222" stroke="#222" stroke-width="0.2">+</text>
<rect x="334.30" y="446.50" width="6.00" height="5.50" fill="#33a8de"/>
<text x="343.50" y="451.30" font-size="9" text-anchor="start" fill="#222" stroke="#222" stroke-width="0.2" textLength="24.37" lengthAdjust="spacingAndGlyphs">Vector</text>
<rect x="334.30" y="459.20" width="6.00" height="5.50" fill="#e5097b"/>
<text x="343.50" y="464.30" font-size="9" text-anchor="start" fill="#222" stroke="#222" stroke-width="0.2" textLength="19.11" lengthAdjust="spacingAndGlyphs">IRS2</text>
<rect x="334.10" y="533.20" width="9.90" height="21.90" fill="#33a8de"/>
<rect x="334.45" y="533.55" width="9.20" height="21.55" fill="none" stroke="#2783ad" stroke-width="0.7"/>
<line x1="339.05" y1="533.70" x2="339.05" y2="531.50" stroke="#262626" stroke-width="1.05"/>
<line x1="336.15" y1="531.50" x2="341.95" y2="531.50" stroke="#262626" stroke-width="1.05"/>
<rect x="348.30" y="521.00" width="10.00" height="34.10" fill="#e5097b"/>
<rect x="348.65" y="521.35" width="9.30" height="33.75" fill="none" stroke="#b2075f" stroke-width="0.7"/>
<line x1="353.30" y1="521.50" x2="353.30" y2="506.80" stroke="#262626" stroke-width="1.05"/>
<line x1="350.40" y1="506.80" x2="356.20" y2="506.80" stroke="#262626" stroke-width="1.05"/>
<rect x="374.50" y="533.20" width="10.00" height="21.90" fill="#33a8de"/>
<rect x="374.85" y="533.55" width="9.30" height="21.55" fill="none" stroke="#2783ad" stroke-width="0.7"/>
<line x1="379.50" y1="533.70" x2="379.50" y2="531.50" stroke="#262626" stroke-width="1.05"/>
<line x1="376.60" y1="531.50" x2="382.40" y2="531.50" stroke="#262626" stroke-width="1.05"/>
<rect x="387.60" y="468.00" width="10.50" height="87.10" fill="#e5097b"/>
<rect x="387.95" y="468.35" width="9.80" height="86.75" fill="none" stroke="#b2075f" stroke-width="0.7"/>
<line x1="392.85" y1="468.50" x2="392.85" y2="465.00" stroke="#262626" stroke-width="1.05"/>
<line x1="389.95" y1="465.00" x2="395.75" y2="465.00" stroke="#262626" stroke-width="1.05"/>
<polyline points="378.90,516.70 378.90,451.60 392.70,451.60 392.70,458.10" fill="none" stroke="#262626" stroke-width="1.15"/>
<text x="385.85" y="449.00" font-size="8" text-anchor="middle" fill="#222" stroke="#222" stroke-width="0.3" letter-spacing="1.5">**</text>
<line x1="326.50" y1="441.35" x2="326.50" y2="555.70" stroke="#262626" stroke-width="1.3"/>
<line x1="322.90" y1="555.10" x2="326.50" y2="555.10" stroke="#262626" stroke-width="1.1"/>
<text x="319.50" y="558.50" font-size="9.5" text-anchor="end" fill="#222" stroke="#222" stroke-width="0.2" textLength="4.91" lengthAdjust="spacingAndGlyphs">0</text>
<line x1="322.90" y1="533.05" x2="326.50" y2="533.05" stroke="#262626" stroke-width="1.1"/>
<text x="319.50" y="536.45" font-size="9.5" text-anchor="end" fill="#222" stroke="#222" stroke-width="0.2" textLength="4.91" lengthAdjust="spacingAndGlyphs">1</text>
<line x1="322.90" y1="511.00" x2="326.50" y2="511.00" stroke="#262626" stroke-width="1.1"/>
<text x="319.50" y="514.40" font-size="9.5" text-anchor="end" fill="#222" stroke="#222" stroke-width="0.2" textLength="4.91" lengthAdjust="spacingAndGlyphs">2</text>
<line x1="322.90" y1="488.95" x2="326.50" y2="488.95" stroke="#262626" stroke-width="1.1"/>
<text x="319.50" y="492.35" font-size="9.5" text-anchor="end" fill="#222" stroke="#222" stroke-width="0.2" textLength="4.91" lengthAdjust="spacingAndGlyphs">3</text>
<line x1="322.90" y1="466.90" x2="326.50" y2="466.90" stroke="#262626" stroke-width="1.1"/>
<text x="319.50" y="470.30" font-size="9.5" text-anchor="end" fill="#222" stroke="#222" stroke-width="0.2" textLength="4.91" lengthAdjust="spacingAndGlyphs">4</text>
<line x1="322.90" y1="444.85" x2="326.50" y2="444.85" stroke="#262626" stroke-width="1.1"/>
<text x="319.50" y="448.25" font-size="9.5" text-anchor="end" fill="#222" stroke="#222" stroke-width="0.2" textLength="4.91" lengthAdjust="spacingAndGlyphs">5</text>
<line x1="325.85" y1="555.10" x2="405.20" y2="555.10" stroke="#262626" stroke-width="1.3"/>
<text x="330.00" y="566.00" font-size="9" text-anchor="end" fill="#222" stroke="#222" stroke-width="0.2" textLength="23.3" lengthAdjust="spacingAndGlyphs">EpoR:</text>
<text x="346.00" y="566.00" font-size="9" text-anchor="middle" fill="#222" stroke="#222" stroke-width="0.2" textLength="13.1" lengthAdjust="spacingAndGlyphs">WT</text>
<text x="384.90" y="566.00" font-size="9" text-anchor="middle" fill="#222" stroke="#222" stroke-width="0.2" textLength="19" lengthAdjust="spacingAndGlyphs">Core</text>
<text x="307.80" y="496.30" font-size="9.5" text-anchor="middle" fill="#222" stroke="#222" stroke-width="0.2" transform="rotate(-90 307.80 496.30)" textLength="81" lengthAdjust="spacingAndGlyphs">Relative growth (fold)</text>
</svg></body></html>
